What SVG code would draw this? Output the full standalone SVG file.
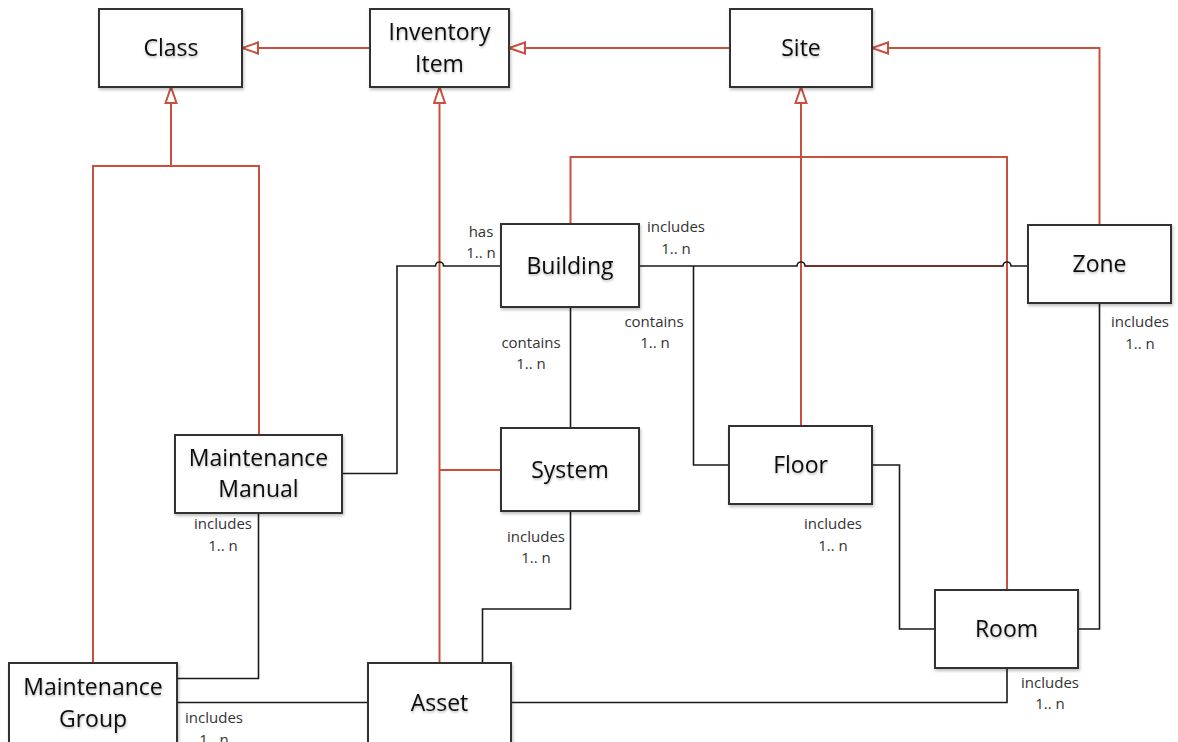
<svg xmlns="http://www.w3.org/2000/svg" width="1178" height="742" viewBox="0 0 1178 742">
  <defs>
    <style>
      .box { fill: #ffffff; stroke: #333333; stroke-width: 2; }
      .name { font-family: "Open Sans", "Liberation Sans", sans-serif; font-size: 23px; fill: #111111; text-anchor: middle; }
      .lbl { font-family: "Open Sans", "Liberation Sans", sans-serif; font-size: 15px; fill: #333333; text-anchor: middle; }
      .gen { fill: none; stroke: #c9503c; stroke-width: 2; }
      .assoc { fill: none; stroke: #1a1a1a; stroke-width: 1.6; }
    </style>
    <!-- hollow triangle for generalisation links -->
    <marker id="tri" markerUnits="userSpaceOnUse" markerWidth="20" markerHeight="14" refX="17" refY="7" orient="auto">
      <path d="M1,1.5 L17,7 L1,12.5 Z" fill="#ffffff" stroke="#c9503c" stroke-width="2"/>
    </marker>
    <filter id="shadow" x="-10%" y="-10%" width="130%" height="140%">
      <feDropShadow dx="1" dy="2" stdDeviation="1.5" flood-color="#000000" flood-opacity="0.25"/>
    </filter>
    <filter id="tshadow" x="-10%" y="-20%" width="120%" height="160%">
      <feDropShadow dx="0.5" dy="1.5" stdDeviation="1" flood-color="#000000" flood-opacity="0.3"/>
    </filter>
  </defs>

  <g id="connectors">
    <!-- generalisation links -->
    <path class="gen" d="M370,48 H242" marker-end="url(#tri)"/>
    <path class="gen" d="M171,166 V87" marker-end="url(#tri)"/>
    <path class="gen" d="M93,663 V166 H259 V435"/>
    <path class="gen" d="M439.5,663 V87" marker-end="url(#tri)"/>
    <path class="gen" d="M501,470 H439.5"/>
    <path class="gen" d="M730,48 H509" marker-end="url(#tri)"/>
    <path class="gen" d="M1099.5,225 V48 H872" marker-end="url(#tri)"/>
    <path class="gen" d="M801,426 V87" marker-end="url(#tri)"/>
    <path class="gen" d="M570.5,224 V157 H1007 V590"/>

    <!-- associations -->
    <path class="assoc" d="M501,266 H443.5 A4,4 0 0 0 435.5,266 H397 V473.5 H342"/>
    <path class="assoc" d="M639,266 H797 A4,4 0 0 1 805,266 H1003 A4,4 0 0 1 1011,266 H1028"/>
    <path d="M805,266 H1003" fill="none" stroke="#7a2a1e" stroke-width="1.6"/>
    <path class="assoc" d="M693.5,266 V465 H729"/>
    <path class="assoc" d="M570.5,307 V428"/>
    <path class="assoc" d="M872,465 H899.5 V629 H935"/>
    <path class="assoc" d="M1099.5,303 V629 H1078"/>
    <path class="assoc" d="M570.5,511 V609 H482.5 V663"/>
    <path class="assoc" d="M1007,668 V702.5 H511"/>
    <path class="assoc" d="M258.5,513 V678.5 H177"/>
    <path class="assoc" d="M177,702.5 H368"/>

    <!-- multiplicity labels -->
    <text class="lbl" x="481" y="237">has</text>
    <text class="lbl" x="481" y="258">1.. n</text>
    <text class="lbl" x="676" y="232">includes</text>
    <text class="lbl" x="676" y="254">1.. n</text>
    <text class="lbl" x="654" y="327">contains</text>
    <text class="lbl" x="655" y="348">1.. n</text>
    <text class="lbl" x="531" y="348">contains</text>
    <text class="lbl" x="531" y="369">1.. n</text>
    <text class="lbl" x="1140" y="327">includes</text>
    <text class="lbl" x="1140" y="349">1.. n</text>
    <text class="lbl" x="223" y="529">includes</text>
    <text class="lbl" x="223" y="551">1.. n</text>
    <text class="lbl" x="536" y="542">includes</text>
    <text class="lbl" x="536" y="563">1.. n</text>
    <text class="lbl" x="833" y="529">includes</text>
    <text class="lbl" x="833" y="551">1.. n</text>
    <text class="lbl" x="1050" y="688">includes</text>
    <text class="lbl" x="1050" y="709">1.. n</text>
    <text class="lbl" x="214" y="723">includes</text>
    <text class="lbl" x="214" y="745">1.. n</text>
  </g>

  <g id="class" filter="url(#shadow)">
    <rect class="box" x="99" y="9" width="143" height="78"/>
    <text class="name" x="171" y="56" filter="url(#tshadow)">Class</text>
  </g>
  <g id="inventory-item">
    <rect class="box" x="370" y="9" width="139" height="78" filter="url(#shadow)"/>
    <text class="name" x="439.5" y="40" filter="url(#tshadow)">Inventory</text>
    <text class="name" x="439.5" y="72" filter="url(#tshadow)">Item</text>
  </g>
  <g id="site">
    <rect class="box" x="730" y="9" width="142" height="78" filter="url(#shadow)"/>
    <text class="name" x="801" y="56" filter="url(#tshadow)">Site</text>
  </g>
  <g id="building">
    <rect class="box" x="501" y="224" width="138" height="83" filter="url(#shadow)"/>
    <text class="name" x="570" y="274" filter="url(#tshadow)">Building</text>
  </g>
  <g id="zone">
    <rect class="box" x="1028" y="225" width="143" height="78" filter="url(#shadow)"/>
    <text class="name" x="1099.5" y="272" filter="url(#tshadow)">Zone</text>
  </g>
  <g id="maintenance-manual">
    <rect class="box" x="175" y="435" width="167" height="78" filter="url(#shadow)"/>
    <text class="name" x="258.5" y="466" filter="url(#tshadow)">Maintenance</text>
    <text class="name" x="258.5" y="497" filter="url(#tshadow)">Manual</text>
  </g>
  <g id="system">
    <rect class="box" x="501" y="428" width="138" height="83" filter="url(#shadow)"/>
    <text class="name" x="570" y="478" filter="url(#tshadow)">System</text>
  </g>
  <g id="floor">
    <rect class="box" x="729" y="426" width="143" height="78" filter="url(#shadow)"/>
    <text class="name" x="800.5" y="473" filter="url(#tshadow)">Floor</text>
  </g>
  <g id="room">
    <rect class="box" x="935" y="590" width="143" height="78" filter="url(#shadow)"/>
    <text class="name" x="1006.5" y="637" filter="url(#tshadow)">Room</text>
  </g>
  <g id="maintenance-group">
    <rect class="box" x="9" y="663" width="168" height="82" filter="url(#shadow)"/>
    <text class="name" x="93" y="695" filter="url(#tshadow)">Maintenance</text>
    <text class="name" x="93" y="727" filter="url(#tshadow)">Group</text>
  </g>
  <g id="asset">
    <rect class="box" x="368" y="663" width="143" height="82" filter="url(#shadow)"/>
    <text class="name" x="439.5" y="711" filter="url(#tshadow)">Asset</text>
  </g>
</svg>
